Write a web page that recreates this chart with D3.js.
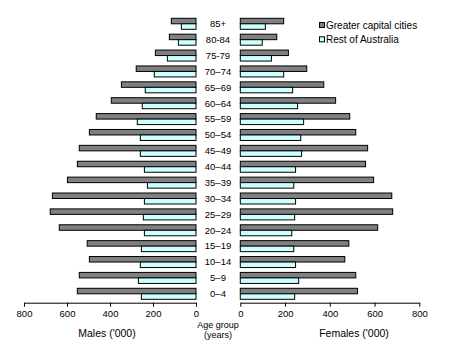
<!DOCTYPE html>
<html lang="en">
<head>
<meta charset="UTF-8">
<title>Population pyramid</title>
<script src="https://d3js.org/d3.v7.min.js"></script>
<style>
  body { margin: 0; background: #fff; }
  svg { display: block; font-family: "Liberation Sans", Arial, sans-serif; }
</style>
</head>
<body>
<div id="chart"></div>
<script>
// age groups, top to bottom
const ageGroups = ["85+", "80-84", "75-79", "70\u201374", "65\u201369", "60\u201364", "55\u201359", "50\u201354",
  "45\u201349", "40\u201344", "35\u201339", "30\u201334", "25\u201329", "20\u201324", "15\u201319", "10\u201314", "5\u20139", "0\u20134"];

// thousands of persons
const malesCapital = [115, 124, 189, 278, 347, 394, 464, 496, 543, 552, 598, 668, 678, 636, 506, 496, 543, 552];
const malesRest    = [68, 82, 133, 194, 236, 250, 273, 259, 259, 240, 226, 240, 245, 240, 254, 259, 268, 254];
const femalesCapital = [194, 163, 215, 297, 373, 426, 489, 516, 569, 560, 596, 677, 681, 614, 485, 467, 516, 524];
const femalesRest    = [112, 98, 139, 194, 234, 256, 283, 270, 274, 247, 239, 247, 243, 230, 239, 247, 261, 243];

const seriesNames = ["Greater capital cities", "Rest of Australia"];
const ticks = [0, 200, 400, 600, 800];

const width = 455, height = 353;
const colCapital = "#808080", colRest = "#ccffff";

const svg = d3.select("#chart").append("svg")
  .attr("width", width).attr("height", height);

const xLeft = d3.scaleLinear().domain([0, 800]).range([196, 24]);
const xRight = d3.scaleLinear().domain([0, 800]).range([240.3, 419.3]);
const axisY = 302.7;

const y = d3.scaleBand().domain(ageGroups).range([15.8, 301.8])
  .paddingInner(0.307).paddingOuter(0.157);
const barH = y.bandwidth() / 2;

const rows = ageGroups.map((g, i) => ({
  g, mc: malesCapital[i], mr: malesRest[i], fc: femalesCapital[i], fr: femalesRest[i]
}));

const bars = svg.append("g").attr("stroke", "#000").attr("stroke-width", 1);

// males (left)
bars.selectAll(".mc").data(rows).join("rect")
  .attr("x", d => xLeft(d.mc)).attr("y", d => y(d.g))
  .attr("width", d => xLeft(0) - xLeft(d.mc)).attr("height", barH)
  .attr("fill", colCapital);
bars.selectAll(".mr").data(rows).join("rect")
  .attr("x", d => xLeft(d.mr)).attr("y", d => y(d.g) + barH)
  .attr("width", d => xLeft(0) - xLeft(d.mr)).attr("height", barH)
  .attr("fill", colRest);

// females (right)
bars.selectAll(".fc").data(rows).join("rect")
  .attr("x", xRight(0)).attr("y", d => y(d.g))
  .attr("width", d => xRight(d.fc) - xRight(0)).attr("height", barH)
  .attr("fill", colCapital);
bars.selectAll(".fr").data(rows).join("rect")
  .attr("x", xRight(0)).attr("y", d => y(d.g) + barH)
  .attr("width", d => xRight(d.fr) - xRight(0)).attr("height", barH)
  .attr("fill", colRest);

// age group labels in the middle
svg.append("g").selectAll("text").data(ageGroups).join("text")
  .attr("x", 218).attr("y", d => y(d) + barH)
  .attr("dy", "0.35em")
  .attr("text-anchor", "middle")
  .attr("font-size", 9.5)
  .attr("fill", "#000")
  .text(d => d);

// axes
function drawAxis(scale) {
  const g = svg.append("g").attr("transform", `translate(0,${axisY})`)
    .call(d3.axisBottom(scale).tickValues(ticks).tickSize(4).tickSizeOuter(0).tickFormat(d3.format("d")));
  g.select(".domain").attr("stroke", "#000");
  g.selectAll(".tick line").attr("stroke", "#000");
  g.selectAll(".tick text").attr("font-size", 9.5).attr("font-family", null).attr("fill", "#000").attr("dy", "0.75em");
}
drawAxis(xLeft);
drawAxis(xRight);

// axis titles
svg.append("text").attr("x", 107).attr("y", 337).attr("text-anchor", "middle")
  .attr("font-size", 10.5).text("Males ('000)");
svg.append("text").attr("x", 354).attr("y", 337).attr("text-anchor", "middle")
  .attr("font-size", 10.5).text("Females ('000)");
svg.append("text").attr("x", 218).attr("y", 327.5).attr("text-anchor", "middle")
  .attr("font-size", 9).text("Age group");
svg.append("text").attr("x", 218).attr("y", 338).attr("text-anchor", "middle")
  .attr("font-size", 9).text("(years)");

// legend
const legend = svg.append("g").attr("transform", "translate(319.5,25)");
const li = legend.selectAll("g").data(seriesNames).join("g")
  .attr("transform", (d, i) => `translate(0,${i * 14.3})`);
li.append("rect").attr("x", 0).attr("y", -2.5).attr("width", 5).attr("height", 5)
  .attr("fill", (d, i) => i === 0 ? colCapital : colRest).attr("stroke", "#000");
li.append("text").attr("x", 6.5).attr("dy", "0.35em").attr("font-size", 10).text(d => d);
</script>
</body>
</html>
